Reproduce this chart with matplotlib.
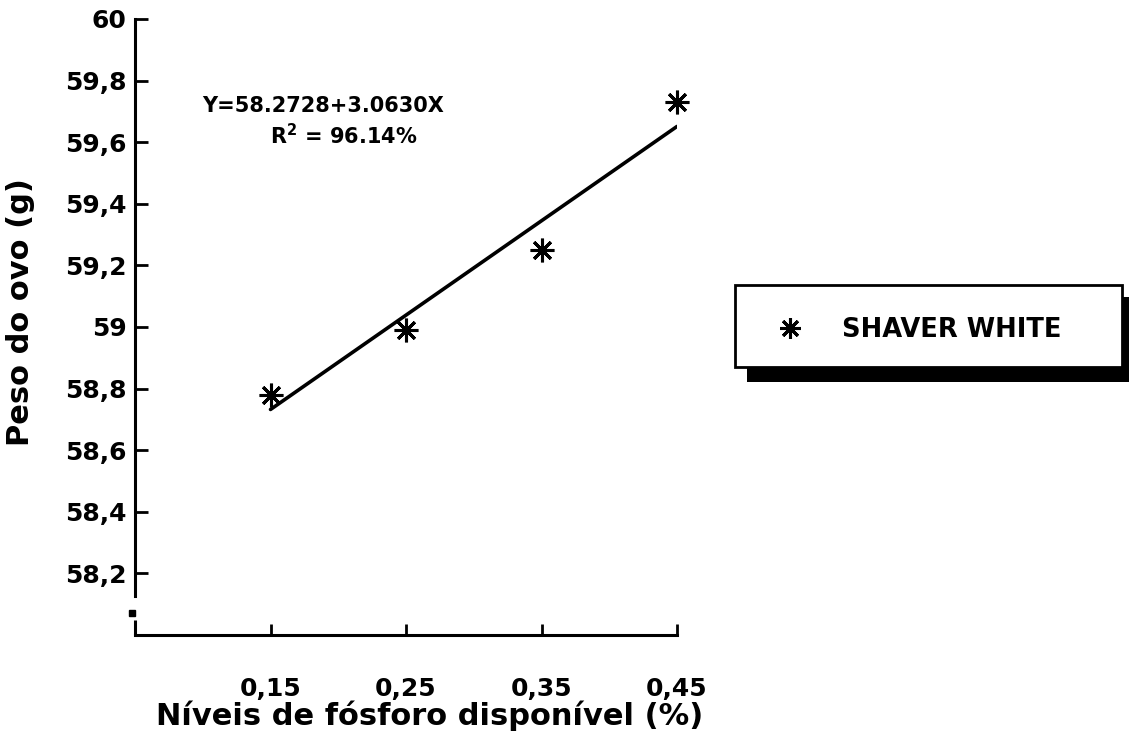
import matplotlib
matplotlib.use("Agg")
import matplotlib.pyplot as plt
from matplotlib.lines import Line2D
from matplotlib.patches import Rectangle

# data
niveis = [0.15, 0.25, 0.35, 0.45]
peso_ovo = [58.78, 58.99, 59.25, 59.73]
intercepto = 58.2728
inclinacao = 3.0630
r2_texto = "96.14%"

x_ticks = [0.15, 0.25, 0.35, 0.45]
x_tick_labels = ["0,15", "0,25", "0,35", "0,45"]
y_ticks = [58.2, 58.4, 58.6, 58.8, 59.0, 59.2, 59.4, 59.6, 59.8, 60.0]
y_tick_labels = ["58,2", "58,4", "58,6", "58,8", "59", "59,2", "59,4", "59,6", "59,8", "60"]

W, H = 1131, 732
plt.rcParams["font.family"] = ["DejaVu Sans"]
plt.rcParams["font.weight"] = "bold"


def fpos(px, py):
    # pixel position (top-left origin) -> figure fraction
    return px / W, 1 - py / H


fig = plt.figure(figsize=(W / 100, H / 100), dpi=100)
ax = fig.add_axes([135 / W, 1 - 635 / H, (677 - 135) / W, (635 - 19) / H])
ax.set_xlim(0.05, 0.45)
ax.set_ylim(58.0, 60.0)

star = (8, 2, 0)
ax.plot(niveis, peso_ovo, linestyle="none", marker=star, markersize=17,
        markeredgewidth=2.2, color="black", clip_on=False, zorder=3)

x_fit = [niveis[0], niveis[-1]]
y_fit = [intercepto + inclinacao * v for v in x_fit]
ax.plot(x_fit, y_fit, color="black", linewidth=2.6, solid_capstyle="round")

for side in ("top", "right"):
    ax.spines[side].set_visible(False)
ax.spines["left"].set_bounds(58.127, 60.0)
ax.spines["left"].set_linewidth(2.2)
ax.spines["bottom"].set_linewidth(2.2)
# broken axis: short corner segment and a dot
ax.plot([0.05, 0.05], [58.0, 58.05], color="black", linewidth=2.2,
        clip_on=False, solid_capstyle="butt")
ax.plot([0.0475], [58.072], marker="s", markersize=4, color="black", clip_on=False)

ax.set_xticks(x_ticks)
ax.set_xticklabels(x_tick_labels, fontsize=18, fontweight="bold")
ax.set_yticks(y_ticks)
ax.set_yticklabels(y_tick_labels, fontsize=18, fontweight="bold")
ax.tick_params(axis="x", direction="in", length=8, width=2, pad=30)
ax.tick_params(axis="y", direction="in", length=9, width=2, pad=6)

fig.text(*fpos(21, 312), "Peso do ovo (g)", rotation=90, ha="center", va="center",
         fontsize=22, fontweight="bold")
fig.text(*fpos(430, 716), "Níveis de fósforo disponível (%)", ha="center", va="center",
         fontsize=22, fontweight="bold")

fig.text(*fpos(202, 106), f"Y={intercepto:.4f}+{inclinacao:.4f}X", ha="left", va="center",
         fontsize=15, fontweight="bold")
fig.text(*fpos(270, 136), f"R$^\\mathbf{{2}}$ = {r2_texto}", ha="left", va="center",
         fontsize=15, fontweight="bold")

# legend box with solid shadow
sx, sy = fpos(747, 382)
fig.add_artist(Rectangle((sx, sy), (1129 - 747) / W, (382 - 297) / H,
                         transform=fig.transFigure, facecolor="black", edgecolor="none"))
bx, by = fpos(735, 367)
fig.add_artist(Rectangle((bx, by), (1122 - 735) / W, (367 - 285) / H,
                         transform=fig.transFigure, facecolor="white", edgecolor="black",
                         linewidth=2))
mx, my = fpos(790, 328)
fig.add_artist(Line2D([mx], [my], marker=star, markersize=15, markeredgewidth=2.2,
                      color="black", transform=fig.transFigure))
fig.text(*fpos(842, 330), "SHAVER WHITE", ha="left", va="center",
         fontsize=18.5, fontweight="bold")

fig.savefig("out.png", dpi=100, facecolor="white")
